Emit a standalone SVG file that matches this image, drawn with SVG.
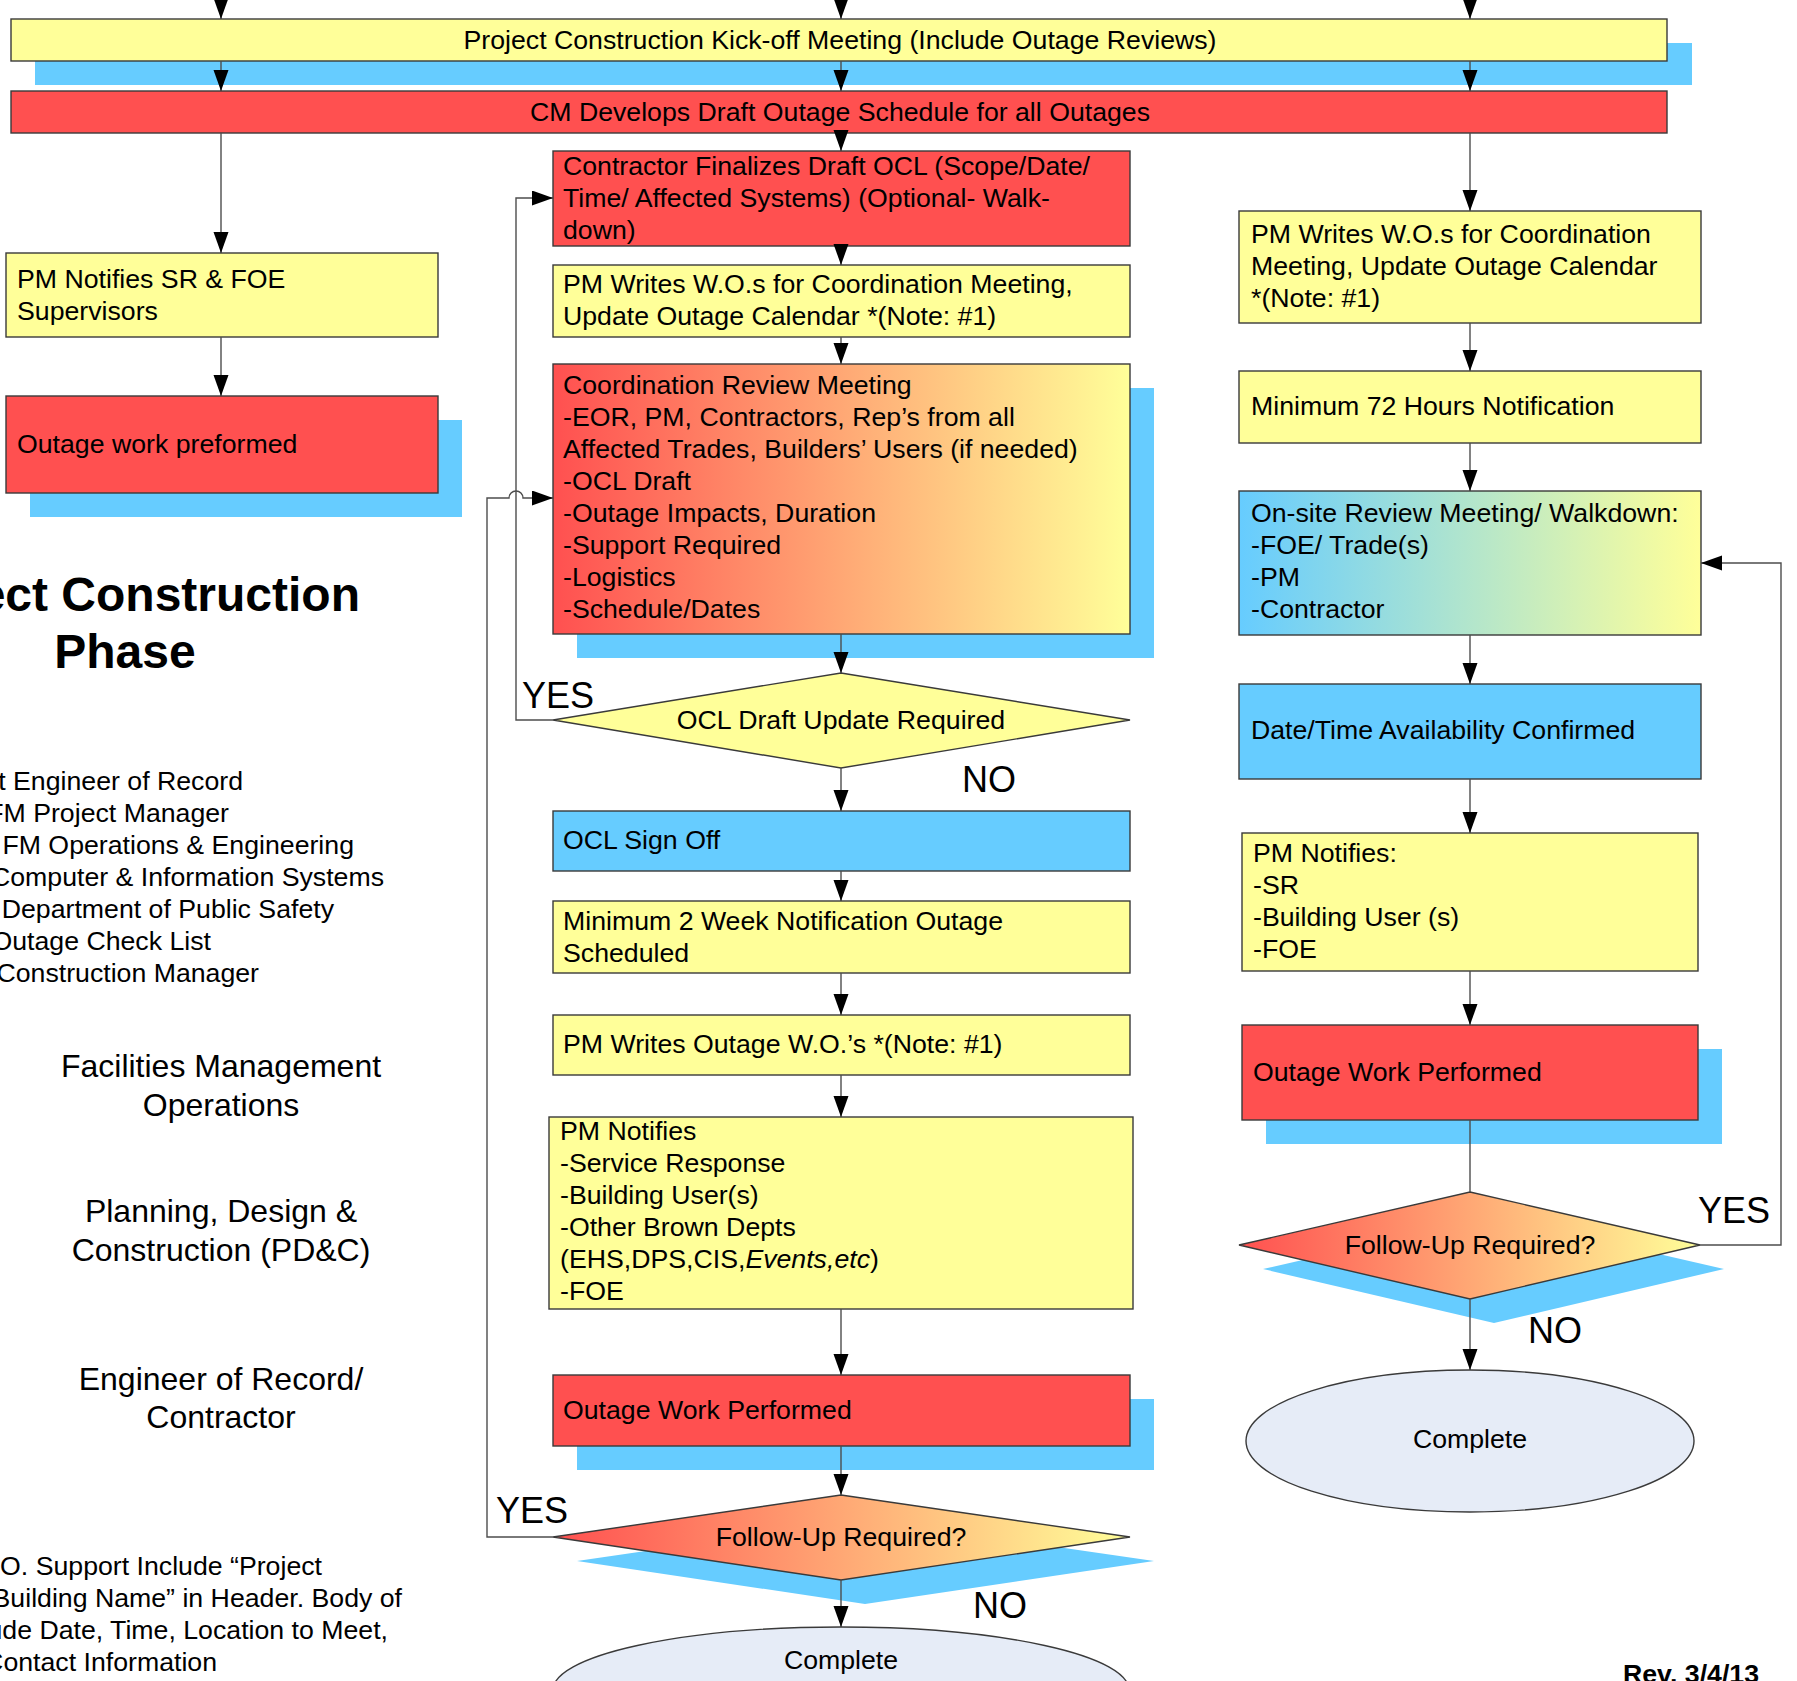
<svg xmlns="http://www.w3.org/2000/svg" width="1797" height="1681" viewBox="0 0 1797 1681">
<defs>
<style>
text { font-family: "Liberation Sans", Arial, Helvetica, sans-serif; font-size: 26.7px; fill: #000; }
.box { stroke: #3a3a3a; stroke-width: 1.4; }
.y { fill: #FFFF99; }
.r { fill: #FF5050; }
.b { fill: #66CCFF; }
.sh { fill: #66CCFF; }
.gry { fill: url(#gRY); }
.gby { fill: url(#gBY); }
.ell { fill: #E6ECF7; stroke: #3a3a3a; stroke-width: 1.4; }
.c { fill: none; stroke: #4d4d4d; stroke-width: 1.4; }
.arr { marker-end: url(#ah); }
.lbl { font-size: 36px; }
.sec { font-size: 32px; text-anchor: middle; }
.mid { text-anchor: middle; }
.end { text-anchor: end; }
.title { font-size: 48px; font-weight: bold; }
.rev { font-weight: bold; }
</style>
<marker id="ah" markerUnits="userSpaceOnUse" markerWidth="22" markerHeight="16" refX="21" refY="7.5" orient="auto"><path d="M0,0 L21,7.5 L0,15 z" fill="#000"/></marker>
<linearGradient id="gRY" x1="0" y1="0" x2="1" y2="0"><stop offset="0" stop-color="#FF5050"/><stop offset="1" stop-color="#FFFF99"/></linearGradient>
<linearGradient id="gBY" x1="0" y1="0" x2="1" y2="0"><stop offset="0" stop-color="#66CCFF"/><stop offset="1" stop-color="#FFFF99"/></linearGradient>
</defs>
<rect width="1797" height="1681" fill="#FFFFFF"/>

<!-- left panel text -->
<g id="title">
<text class="title end" x="360" y="611">ect Construction</text>
<text class="title mid" x="125" y="668">Phase</text>
</g>
<g id="legend">
<text class="end" x="243" y="790">t Engineer of Record</text>
<text class="end" x="229" y="822">FM Project Manager</text>
<text class="end" x="354" y="854"> FM Operations &amp; Engineering</text>
<text class="end" x="384" y="886">Computer &amp; Information Systems</text>
<text class="end" x="334" y="918"> Department of Public Safety</text>
<text class="end" x="211" y="950">Outage Check List</text>
<text class="end" x="259" y="982">Construction Manager</text>
</g>
<g id="sections">
<text class="sec" x="221" y="1077">Facilities Management</text>
<text class="sec" x="221" y="1116">Operations</text>
<text class="sec" x="221" y="1222">Planning, Design &amp;</text>
<text class="sec" x="221" y="1261">Construction (PD&amp;C)</text>
<text class="sec" x="221" y="1390">Engineer of Record/</text>
<text class="sec" x="221" y="1428">Contractor</text>
</g>
<g id="note">
<text class="end" x="322" y="1575">O. Support Include “Project</text>
<text class="end" x="402" y="1607">Building Name” in Header. Body of</text>
<text class="end" x="388" y="1639">ude Date, Time, Location to Meet,</text>
<text class="end" x="217" y="1671">Contact Information</text>
</g>
<g id="rev"><text class="rev" x="1623" y="1683">Rev. 3/4/13</text></g>

<!-- top bars -->
<g id="kickoff">
<rect class="sh" x="35" y="43" width="1657" height="42"/>
<rect class="box y" x="11" y="19" width="1656" height="42"/>
<text class="mid" x="840" y="48.5">Project Construction Kick-off Meeting (Include Outage Reviews)</text>
</g>
<g id="cm-schedule">
<rect class="box r" x="11" y="91" width="1656" height="42"/>
<text class="mid" x="840" y="121">CM Develops Draft Outage Schedule for all Outages</text>
</g>

<!-- left column -->
<g id="pm-notifies-sr">
<rect class="box y" x="6" y="253" width="432" height="84"/>
<text x="17" y="288">PM Notifies SR &amp; FOE</text>
<text x="17" y="320">Supervisors</text>
</g>
<g id="outage-preformed">
<rect class="sh" x="30" y="420" width="432" height="97"/>
<rect class="box r" x="6" y="396" width="432" height="97"/>
<text x="17" y="453">Outage work preformed</text>
</g>

<!-- middle column -->
<g id="contractor-ocl">
<rect class="box r" x="553" y="151" width="577" height="95"/>
<text x="563" y="175">Contractor Finalizes Draft OCL (Scope/Date/</text>
<text x="563" y="207">Time/ Affected Systems) (Optional- Walk-</text>
<text x="563" y="239">down)</text>
</g>
<g id="pm-writes-mid">
<rect class="box y" x="553" y="265" width="577" height="72"/>
<text x="563" y="293">PM Writes W.O.s for Coordination Meeting,</text>
<text x="563" y="325">Update Outage Calendar *(Note: #1)</text>
</g>
<g id="coordination">
<rect class="sh" x="577" y="388" width="577" height="270"/>
<rect class="box gry" x="553" y="364" width="577" height="270"/>
<text x="563" y="394">Coordination Review Meeting</text>
<text x="563" y="426">-EOR, PM, Contractors, Rep’s from all</text>
<text x="563" y="458">Affected Trades, Builders’ Users (if needed)</text>
<text x="563" y="490">-OCL Draft</text>
<text x="563" y="522">-Outage Impacts, Duration</text>
<text x="563" y="554">-Support Required</text>
<text x="563" y="586">-Logistics</text>
<text x="563" y="618">-Schedule/Dates</text>
</g>
<g id="ocl-update">
<polygon class="box y" points="841,673 1130,720 841,768 553,720"/>
<text class="mid" x="841" y="729">OCL Draft Update Required</text>
</g>
<g id="ocl-signoff">
<rect class="box b" x="553" y="811" width="577" height="60"/>
<text x="563" y="849">OCL Sign Off</text>
</g>
<g id="two-week">
<rect class="box y" x="553" y="901" width="577" height="72"/>
<text x="563" y="930">Minimum 2 Week Notification Outage</text>
<text x="563" y="962">Scheduled</text>
</g>
<g id="pm-writes-outage">
<rect class="box y" x="553" y="1015" width="577" height="60"/>
<text x="563" y="1053">PM Writes Outage W.O.’s *(Note: #1)</text>
</g>
<g id="pm-notifies-mid">
<rect class="box y" x="549" y="1117" width="584" height="192"/>
<text x="560" y="1140">PM Notifies</text>
<text x="560" y="1172">-Service Response</text>
<text x="560" y="1204">-Building User(s)</text>
<text x="560" y="1236">-Other Brown Depts</text>
<text x="560" y="1268">(EHS,DPS,CIS,<tspan font-style="italic">Events,etc</tspan>)</text>
<text x="560" y="1300">-FOE</text>
</g>
<g id="outage-performed-mid">
<rect class="sh" x="577" y="1399" width="577" height="71"/>
<rect class="box r" x="553" y="1375" width="577" height="71"/>
<text x="563" y="1419">Outage Work Performed</text>
</g>
<g id="followup-mid">
<polygon class="sh" points="865,1519 1154,1561 865,1604 577,1561"/>
<polygon class="box gry" points="841,1495 1130,1537 841,1580 553,1537"/>
<text class="mid" x="841" y="1546">Follow-Up Required?</text>
</g>
<g id="complete-mid">
<ellipse class="ell" cx="841" cy="1690" rx="288" ry="63"/>
<text class="mid" x="841" y="1669">Complete</text>
</g>

<!-- right column -->
<g id="pm-writes-right">
<rect class="box y" x="1239" y="211" width="462" height="112"/>
<text x="1251" y="243">PM Writes W.O.s for Coordination</text>
<text x="1251" y="275">Meeting, Update Outage Calendar</text>
<text x="1251" y="307">*(Note: #1)</text>
</g>
<g id="min-72">
<rect class="box y" x="1239" y="371" width="462" height="72"/>
<text x="1251" y="415">Minimum 72 Hours Notification</text>
</g>
<g id="onsite-review">
<rect class="box gby" x="1239" y="491" width="462" height="144"/>
<text x="1251" y="522">On-site Review Meeting/ Walkdown:</text>
<text x="1251" y="554">-FOE/ Trade(s)</text>
<text x="1251" y="586">-PM</text>
<text x="1251" y="618">-Contractor</text>
</g>
<g id="datetime">
<rect class="box b" x="1239" y="684" width="462" height="95"/>
<text x="1251" y="739">Date/Time Availability Confirmed</text>
</g>
<g id="pm-notifies-right">
<rect class="box y" x="1242" y="833" width="456" height="138"/>
<text x="1253" y="862">PM Notifies:</text>
<text x="1253" y="894">-SR</text>
<text x="1253" y="926">-Building User (s)</text>
<text x="1253" y="958">-FOE</text>
</g>
<g id="outage-performed-right">
<rect class="sh" x="1266" y="1049" width="456" height="95"/>
<rect class="box r" x="1242" y="1025" width="456" height="95"/>
<text x="1253" y="1081">Outage Work Performed</text>
</g>
<g id="followup-right">
<polygon class="sh" points="1494,1216 1724,1269 1494,1323 1263,1269"/>
<polygon class="box gry" points="1470,1192 1700,1245 1470,1299 1239,1245"/>
<text class="mid" x="1470" y="1254">Follow-Up Required?</text>
</g>
<g id="complete-right">
<ellipse class="ell" cx="1470" cy="1441" rx="224" ry="71"/>
<text class="mid" x="1470" y="1448">Complete</text>
</g>

<!-- connectors -->
<g id="connectors">
<path class="c arr" d="M221,-10 V19"/>
<path class="c arr" d="M841,-10 V19"/>
<path class="c arr" d="M1470,-10 V19"/>
<path class="c arr" d="M221,61 V91"/>
<path class="c arr" d="M841,61 V91"/>
<path class="c arr" d="M1470,61 V91"/>
<path class="c arr" d="M221,133 V253"/>
<path class="c arr" d="M221,337 V396"/>
<path class="c arr" d="M841,133 V151"/>
<path class="c arr" d="M841,246 V265"/>
<path class="c arr" d="M841,337 V364"/>
<path class="c arr" d="M841,634 V673"/>
<path class="c arr" d="M841,768 V811"/>
<path class="c arr" d="M841,871 V901"/>
<path class="c arr" d="M841,973 V1015"/>
<path class="c arr" d="M841,1075 V1117"/>
<path class="c arr" d="M841,1309 V1375"/>
<path class="c arr" d="M841,1446 V1495"/>
<path class="c arr" d="M841,1580 V1627"/>
<path class="c arr" d="M1470,133 V211"/>
<path class="c arr" d="M1470,323 V371"/>
<path class="c arr" d="M1470,443 V491"/>
<path class="c arr" d="M1470,635 V684"/>
<path class="c arr" d="M1470,779 V833"/>
<path class="c arr" d="M1470,971 V1025"/>
<path class="c" d="M1470,1120 V1192"/>
<path class="c arr" d="M1470,1299 V1370"/>
<path class="c arr" d="M553,720 H516 V198 H553"/>
<path class="c arr" d="M553,1537 H487 V498 H509 A7,7 0 0 1 523,498 H553"/>
<path class="c arr" d="M1700,1245 H1781 V563 H1701"/>
<text class="lbl" x="522" y="708">YES</text>
<text class="lbl" x="962" y="792">NO</text>
<text class="lbl" x="496" y="1523">YES</text>
<text class="lbl" x="973" y="1618">NO</text>
<text class="lbl" x="1698" y="1223">YES</text>
<text class="lbl" x="1528" y="1343">NO</text>
</g>
</svg>
